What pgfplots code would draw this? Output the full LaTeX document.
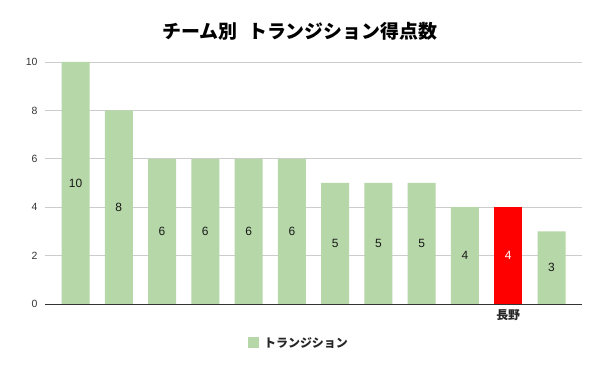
\documentclass[border=0pt]{standalone}
\usepackage{fontspec}
\setmainfont{Liberation Sans}
\newfontfamily\jp{Noto Sans CJK JP}
\usepackage{pgfplots}
\usepackage{pgfplotstable}
\pgfplotsset{compat=1.18}
\definecolor{barg}{HTML}{B6D7A8}
\definecolor{gridc}{HTML}{CCCCCC}
\definecolor{axc}{HTML}{333333}
\pgfplotstableread{
x y
0 10
1 8
2 6
3 6
4 6
5 6
6 5
7 5
8 5
9 4
11 3
}\greenbars
\pgfplotstableread{
x mid lab
0 5 10
1 4 8
2 3 6
3 3 6
4 3 6
5 3 6
6 2.5 5
7 2.5 5
8 2.5 5
9 2 4
11 1.5 3
}\greenlabels
\begin{document}
\begin{tikzpicture}
\path[use as bounding box] (-45bp,-67bp) rectangle (555bp,304bp);
\begin{axis}[
  at={(0,0)}, anchor=south west, scale only axis,
  width=537bp, height=242bp,
  xmin=-0.705, xmax=11.705, ymin=0, ymax=10,
  ytick={0,2,4,6,8,10},
  xtick={10}, xticklabels={長野},
  ymajorgrids, grid style={draw=gridc, line width=0.7bp},
  axis x line*=bottom, axis y line*=left,
  separate axis lines,
  x axis line style={draw=axc, line width=0.8bp, -},
  y axis line style={draw=none},
  major tick length=0pt,
  /pgf/number format/assume math mode=true,
  yticklabel style={font=\fontsize{10.5}{12}\selectfont, text=axc, xshift=-4bp},
  xticklabel style={font=\jp\bfseries\fontsize{12}{14}\selectfont, text=black!85, yshift=-2bp},
  legend style={at={(axis description cs:0.473,-0.161)}, anchor=center, draw=none,
    font=\jp\bfseries\fontsize{12}{14}\selectfont, text=black!85, inner sep=0pt},
  legend image code/.code={\fill[#1] (0bp,-5.5bp) rectangle (11bp,5.5bp); \path (14bp,0bp);},
]
\addplot[ybar, bar width=28bp, bar shift=0pt, fill=barg, draw=none] table[x=x,y=y]{\greenbars};
\addlegendentry{トランジション}
\addplot[ybar, bar width=28bp, bar shift=0pt, fill=red, draw=none, forget plot] coordinates {(10,4)};
\addplot[draw=none, mark=none, forget plot, nodes near coords, point meta=explicit symbolic,
  every node near coord/.style={anchor=center, font=\fontsize{12}{14}\selectfont, text=black!90}]
  table[x=x,y=mid,meta=lab]{\greenlabels};
\addplot[draw=none, mark=none, forget plot, nodes near coords, point meta=explicit symbolic,
  every node near coord/.style={anchor=center, font=\fontsize{12}{14}\selectfont, text=white}]
  table[x=x,y=mid,meta=lab]{
x mid lab
10 2 4
};
\end{axis}
\node[font=\jp\bfseries\fontsize{19}{22}\selectfont] at (255bp,273bp) {チーム別\hspace{0.55em}トランジション得点数};
\end{tikzpicture}
\end{document}
